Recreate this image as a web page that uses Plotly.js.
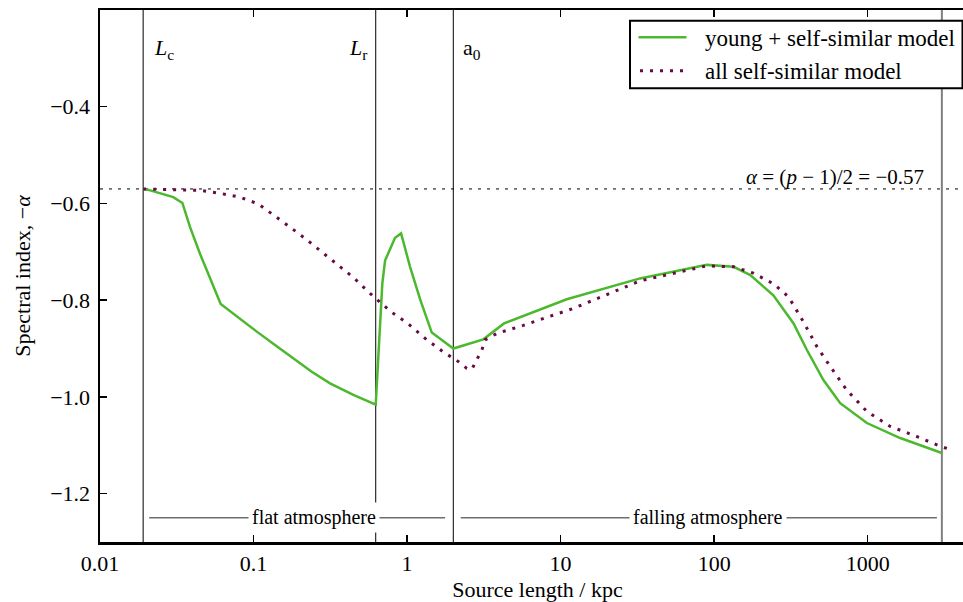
<!DOCTYPE html>
<html>
<head>
<meta charset="utf-8">
<script src="https://cdn.plot.ly/plotly-3.0.1.min.js"></script>
<style>
  html, body { margin: 0; padding: 0; overflow: hidden; background: #fff; }
  #chart { width: 1000px; height: 602px; }
</style>
</head>
<body>
<div id="chart"></div>
<script>
// ---- data ----
const youngX = [0.0191, 0.0207, 0.030, 0.0344, 0.0386, 0.0448, 0.0611, 0.0817, 0.105, 0.1387, 0.1815, 0.2393,
                0.315, 0.4467, 0.625,
                0.690, 0.719, 0.775, 0.835, 0.914, 1.046, 1.215, 1.448, 2.0, 3.14, 4.28, 10.97, 32.9,
                89.5, 134, 172, 243, 329, 402, 515, 662, 988, 1629, 3042];
const youngY = [-0.570, -0.572, -0.587, -0.599, -0.649, -0.704, -0.808, -0.839, -0.865, -0.893, -0.921, -0.948,
                -0.972, -0.996, -1.016,
                -0.765, -0.718, -0.693, -0.671, -0.662, -0.731, -0.798, -0.867, -0.900, -0.881, -0.848, -0.798, -0.755,
                -0.727, -0.731, -0.748, -0.790, -0.848, -0.903, -0.965, -1.013, -1.054, -1.085, -1.116];

const allX = [0.0191, 0.0448, 0.0605, 0.0817, 0.1074, 0.1345, 0.173, 0.222, 0.285, 0.357, 0.447, 0.574,
              0.794, 1.02, 1.31, 1.72, 2.16, 2.45, 2.64, 2.84, 3.07, 3.22, 3.84, 5.72, 12.1, 33.0, 89.5,
              134, 180, 243, 305, 382, 467, 570, 731, 988, 1403, 2094, 2965, 3624];
const allY = [-0.570, -0.573, -0.579, -0.587, -0.601, -0.623, -0.649, -0.675, -0.702, -0.728, -0.753, -0.786,
              -0.825, -0.849, -0.879, -0.907, -0.927, -0.941, -0.943, -0.922, -0.903, -0.882, -0.869, -0.852, -0.817, -0.760, -0.729,
              -0.731, -0.744, -0.766, -0.793, -0.845, -0.896, -0.937, -0.986, -1.030, -1.061, -1.082, -1.102, -1.111];

const seriesNames = ['young + self-similar model', 'all self-similar model'];

const xTickVals = [0.01, 0.1, 1, 10, 100, 1000];
const xTickText = ['0.01', '0.1', '1', '10', '100', '1000'];
const yTickVals = [-1.2, -1.0, -0.8, -0.6, -0.4];

const scaleNames = ['<i>L</i><sub>c</sub>', '<i>L</i><sub>r</sub>', 'a<sub>0</sub>'];
const scaleX = [0.0191, 0.625, 2.0];
const edgeX = 3042;

const alphaRef = -0.57;
const alphaLabel = '<i>α</i> = (<i>p</i> − 1)/2 = −0.57';

const regionNames = ['flat atmosphere', 'falling atmosphere'];
const regionLabelX = [0.248, 90.8];
const regionStart = [0.0209, 2.238];
const regionEnd = [1.769, 2825];
const regionY = -1.25;

// ---- build ----
const FONT = '"Liberation Serif", "Times New Roman", Times, serif';
const green = '#4cb82e';
const purple = '#6a0a45';
const purpleDash = '3px,7px';

const traces = [
  { x: youngX, y: youngY, name: seriesNames[0], type: 'scatter', mode: 'lines',
    line: { color: green, width: 2.5 } },
  { x: allX, y: allY, name: seriesNames[1], type: 'scatter', mode: 'lines',
    line: { color: purple, width: 3, dash: purpleDash } }
];

// plot-area geometry in px (for legend placement in paper units)
const M = { l: 100, r: 25, t: 10, b: 60 }, W = 1000, H = 602;
const PW = W - M.l - M.r, PH = H - M.t - M.b;
const px = v => (v - M.l) / PW;
const py = v => 1 - (v - M.t) / PH;

const shapes = [];
scaleX.forEach(v => shapes.push({ type: 'line', xref: 'x', yref: 'paper', x0: v, x1: v, y0: 0, y1: 1,
  line: { color: '#000', width: 1 }, layer: 'below' }));
shapes.push({ type: 'line', xref: 'x', yref: 'paper', x0: edgeX, x1: edgeX, y0: 0, y1: 1,
  line: { color: '#808080', width: 2 }, layer: 'below' });
shapes.push({ type: 'line', xref: 'paper', yref: 'y', x0: 0, x1: 1, y0: alphaRef, y1: alphaRef,
  line: { color: '#000', width: 1, dash: '3px,6px' }, layer: 'below' });
regionStart.forEach((s, i) => shapes.push({ type: 'line', xref: 'x', yref: 'y', x0: s, x1: regionEnd[i],
  y0: regionY, y1: regionY, line: { color: '#6e6e6e', width: 1.5 }, layer: 'below' }));

// legend box (drawn by hand to match the reference's sample length and spacing)
shapes.push({ type: 'rect', xref: 'paper', yref: 'paper', x0: px(630), x1: px(962.5), y0: py(20.7), y1: py(88.3),
  line: { color: '#000', width: 2 }, fillcolor: '#fff', layer: 'above' });
shapes.push({ type: 'line', xref: 'paper', yref: 'paper', x0: px(638.5), x1: px(686.5), y0: py(37.3), y1: py(37.3),
  line: { color: green, width: 2.5 }, layer: 'above' });
shapes.push({ type: 'line', xref: 'paper', yref: 'paper', x0: px(640), x1: px(684), y0: py(70.7), y1: py(70.7),
  line: { color: purple, width: 3, dash: purpleDash }, layer: 'above' });

const annotations = [];
const labelShift = [9, -7, 8];
const labelAnchor = ['left', 'right', 'left'];
scaleNames.forEach((t, i) => annotations.push({ text: t, x: Math.log10(scaleX[i]), y: 1, xref: 'x', yref: 'paper',
  xanchor: labelAnchor[i], yanchor: 'middle', xshift: labelShift[i], yshift: -39, showarrow: false,
  font: { family: FONT, size: 22, color: '#000' } }));
annotations.push({ text: alphaLabel, x: Math.log10(edgeX), y: alphaRef, xref: 'x', yref: 'y',
  xanchor: 'right', yanchor: 'middle', xshift: -16, yshift: 12, showarrow: false,
  font: { family: FONT, size: 21, color: '#000' } });
regionNames.forEach((t, i) => annotations.push({ text: t, x: Math.log10(regionLabelX[i]), y: regionY,
  xref: 'x', yref: 'y', xanchor: 'center', yanchor: 'middle', showarrow: false, bgcolor: '#fff', borderpad: 3,
  font: { family: FONT, size: 20, color: '#000' } }));
[37.3, 70.7].forEach((yy, i) => annotations.push({ text: seriesNames[i], xref: 'paper', yref: 'paper',
  x: px(703), y: py(yy + 1), xanchor: 'left', yanchor: 'middle', showarrow: false,
  font: { family: FONT, size: 23, color: '#000' } }));

const axisCommon = {
  showgrid: false, zeroline: false, showline: true, linecolor: '#000', linewidth: 2.5,
  ticks: 'inside', ticklen: 7, tickwidth: 1.5, tickcolor: '#000', mirror: 'ticks',
  tickfont: { family: FONT, size: 22, color: '#000' }
};

const layout = {
  width: W, height: H,
  margin: M,
  paper_bgcolor: '#fff', plot_bgcolor: '#fff',
  font: { family: FONT, color: '#000' },
  showlegend: false,
  xaxis: Object.assign({}, axisCommon, {
    type: 'log', range: [-2, Math.log10(5000)], tickvals: xTickVals, ticktext: xTickText,
    title: { text: 'Source length / kpc', font: { family: FONT, size: 22, color: '#000' } }
  }),
  yaxis: Object.assign({}, axisCommon, {
    range: [-1.3, -0.2], tickvals: yTickVals, tickformat: '.1f', ticklabelstandoff: 3,
    automargin: true,
    title: { text: 'Spectral index, −<i>α</i>', font: { family: FONT, size: 22, color: '#000' }, standoff: 14 }
  }),
  shapes: shapes,
  annotations: annotations
};

Plotly.newPlot('chart', traces, layout, { staticPlot: true, displayModeBar: false });
</script>
</body>
</html>
